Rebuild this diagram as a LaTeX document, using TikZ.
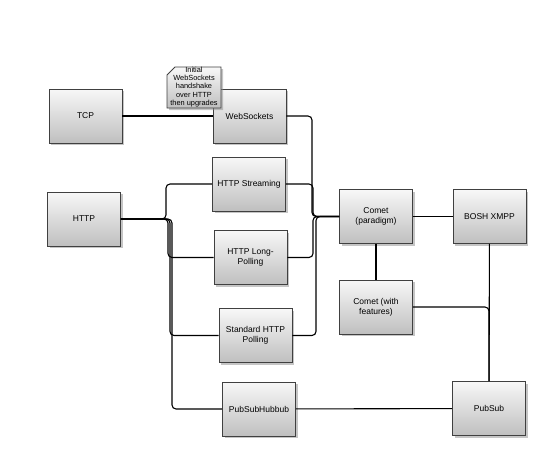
\documentclass[tikz,border=0pt]{standalone}
\usepackage{fontspec}
\setmainfont{Liberation Sans}
\usetikzlibrary{shadows}

\begin{document}
\begin{tikzpicture}[
            x=1pt, y=-1pt,
            box/.style={draw=black!75, line width=0.8pt, rectangle,
                minimum width=73pt, minimum height=54pt, align=center,
                top color=black!3, bottom color=black!25,
                font=\fontsize{8.5}{10}\selectfont,
                drop shadow={shadow xshift=2pt, shadow yshift=-2pt, fill=black!45, opacity=0.5}},
            notebox/.style={draw=black!75, line width=0.8pt,
                top color=black!3, bottom color=black!25,
                drop shadow={shadow xshift=2pt, shadow yshift=-2pt, fill=black!45, opacity=0.5}},
            link/.style={line width=1.1pt, rounded corners=4pt}
        ]
            \useasboundingbox (0,0) rectangle (540,452);

            % Protocol boxes
            \node[box] (tcp) at (85.5,116) {TCP};
            \node[box] (ws) at (249.5,116) {WebSockets};
            \node[box] (http) at (84,219) {HTTP};
            \node[box] (stream) at (249,184) {HTTP Streaming};
            \node[box] (longpoll) at (250.5,257.5) {HTTP Long-\\Polling};
            \node[box] (poll) at (255.5,335.5) {Standard HTTP\\Polling};
            \node[box] (hubbub) at (259,409) {PubSubHubbub};
            \node[box] (comet) at (376,216.5) {Comet\\(paradigm)};
            \node[box] (bosh) at (489.5,216.5) {BOSH XMPP};
            \node[box] (cometf) at (376,307) {Comet (with\\features)};
            \node[box] (pubsub) at (489,408.5) {PubSub};

            % Note on the handshake
            \path[notebox] (167,75) -- (175,67) -- (221,67) -- (221,108) -- (167,108) -- cycle;
            \node[font=\fontsize{7.4}{8.4}\selectfont, align=center, inner sep=0pt] (note) at (194,87)
                {Initial\\WebSockets\\handshake\\over HTTP\\then upgrades};

            % Edges
            \draw[link] (tcp) -- (ws);
            \draw[link] (http.east) -- (166,219) |- (stream.west);
            \draw[link] (http.east) -- (168,219) |- (longpoll.west);
            \draw[link] (http.east) -- (170,219) |- (poll.west);
            \draw[link] (http.east) -- (172,219) |- (hubbub.west);
            \draw[link] (ws.east) -- (312,116) -- (312,216.5) -- (comet.west);
            \draw[link] (stream.east) -- (313,184) -- (313,216.5) -- (comet.west);
            \draw[link] (longpoll.east) -- (313,257.5) -- (313,216.5) -- (comet.west);
            \draw[link] (poll.east) -- (316,335.5) -- (316,216.5) -- (comet.west);
            \draw[link] (comet) -- (bosh);
            \draw[link] (comet) -- (cometf);
            \draw[link] (bosh) -- (pubsub);
            \draw[link] (cometf.east) -| (pubsub.north);
            \draw[link] (hubbub) -- (pubsub);
        \end{tikzpicture}
\end{document}
